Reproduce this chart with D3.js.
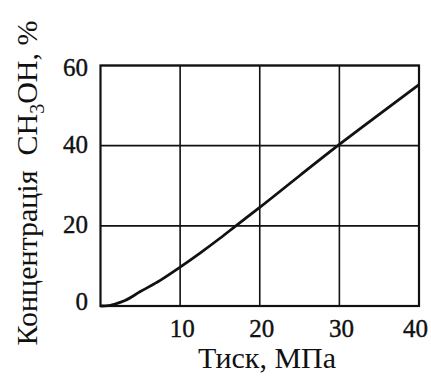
<!DOCTYPE html>
<html lang="uk">
	<head>
		<meta charset="utf-8">
		<title>Концентрація CH3OH</title>
		<script type="text/javascript" src="https://cdn.jsdelivr.net/npm/d3@7"></script>
		<style type="text/css">
			body { margin: 0; background: #fff; }
			text {
				font-family: "Liberation Serif", "Times New Roman", serif;
				fill: #111;
				}
			.tick_lbl {
				font-size: 25px;
				stroke: #111;
				stroke-width: 0.4px;
				}
			.title {
				font-size: 30px;
				white-space: pre;
				}
		</style>
	</head>
	<body>
		<script type="text/javascript">

			var w = 431;
			var h = 376;

			// data
			var pressure = [0, 1, 2, 3, 5, 7.5, 10, 12.5, 15, 17, 20, 25, 30, 35, 40];
			var conc = [0, 0.1, 0.6, 1.3, 3.6, 6.4, 9.7, 13.2, 16.9, 20, 24.6, 32.5, 40.3, 47.8, 55.2];
			var xTicks = [10, 20, 30, 40];
			var yTicks = [0, 20, 40, 60];

			var points = pressure.map(function(p, i){ return [p, conc[i]]; });

			var xScale = d3.scaleLinear().domain([0, 40]).range([100.5, 419]);
			var yScale = d3.scaleLinear().domain([0, 60]).range([306, 65.5]);

			var svg = d3.select("body").append("svg")
				.attr("width", w)
				.attr("height", h);

			// grid
			svg.append("g").selectAll("line")
				.data(xTicks)
				.enter().append("line")
				.attr("x1", function(d){ return xScale(d); })
				.attr("x2", function(d){ return xScale(d); })
				.attr("y1", yScale(0))
				.attr("y2", yScale(60))
				.attr("stroke", "#111")
				.attr("stroke-width", 1.6);

			svg.append("g").selectAll("line")
				.data(yTicks)
				.enter().append("line")
				.attr("x1", xScale(0))
				.attr("x2", xScale(40))
				.attr("y1", function(d){ return yScale(d); })
				.attr("y2", function(d){ return yScale(d); })
				.attr("stroke", "#111")
				.attr("stroke-width", 1.6);

			// frame
			svg.append("rect")
				.attr("x", xScale(0))
				.attr("y", yScale(60))
				.attr("width", xScale(40) - xScale(0))
				.attr("height", yScale(0) - yScale(60))
				.attr("fill", "none")
				.attr("stroke", "#111")
				.attr("stroke-width", 2.2);

			// tick labels
			svg.append("g").selectAll("text")
				.data(xTicks)
				.enter().append("text")
				.attr("class", "tick_lbl")
				.attr("x", function(d){ return d == 40 ? 428 : xScale(d) + 2; })
				.attr("y", 337)
				.attr("text-anchor", function(d){ return d == 40 ? "end" : "middle"; })
				.text(function(d){ return d; });

			svg.append("g").selectAll("text")
				.data(yTicks)
				.enter().append("text")
				.attr("class", "tick_lbl")
				.attr("x", 88)
				.attr("y", function(d){ return yScale(d) + (d == 60 ? 5 : (d == 0 ? -2 : 1.5)); })
				.attr("text-anchor", "end")
				.attr("dominant-baseline", "middle")
				.text(function(d){ return d; });

			// curve
			var line = d3.line()
				.x(function(d){ return xScale(d[0]); })
				.y(function(d){ return yScale(d[1]); })
				.curve(d3.curveMonotoneX);

			svg.append("path")
				.datum(points)
				.attr("d", line)
				.attr("fill", "none")
				.attr("stroke", "#111")
				.attr("stroke-width", 2.8);

			// axis titles
			svg.append("text")
				.attr("class", "title")
				.attr("x", 267)
				.attr("y", 368)
				.attr("text-anchor", "middle")
				.text("Тиск, МПа");

			var yt = svg.append("text")
				.attr("class", "title")
				.attr("transform", "translate(37,183) rotate(-90)")
				.attr("text-anchor", "middle");
			yt.append("tspan").text("Концентрація  CH");
			yt.append("tspan").attr("font-size", "20px").attr("dy", 7).text("3");
			yt.append("tspan").attr("dy", -7).text("OH, %");

		</script>
	</body>
</html>
